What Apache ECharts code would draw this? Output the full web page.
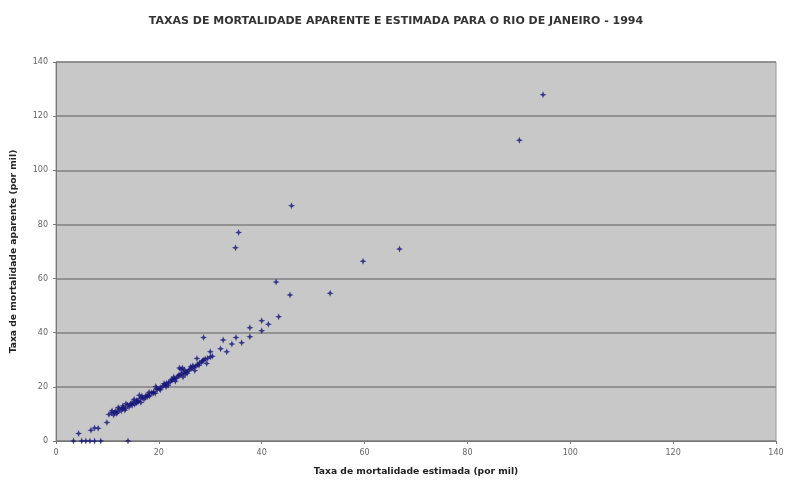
<!DOCTYPE html>
<html>
<head>
<meta charset="utf-8">
<script src="https://cdn.jsdelivr.net/npm/echarts@6/dist/echarts.min.js"></script>
<style>
  html, body { margin: 0; padding: 0; background: #fff; }
  #chart { width: 792px; height: 486px; }
</style>
</head>
<body>
<div id="chart"></div>
<script>
// taxa estimada (eixo x) e taxa aparente (eixo y), por mil
const estimada = [
    3.4, 5.0, 5.8, 6.6, 7.5, 8.7, 14.0,
    4.4, 6.8, 7.5, 8.2, 9.9, 10.3, 10.8, 11.2, 11.6, 12.0, 12.3, 12.7, 13.1, 13.5,
    13.9, 14.2, 14.6, 15.0, 15.3, 15.7, 16.0, 16.4, 16.8, 17.1, 17.5, 17.9, 18.2,
    18.6, 19.0, 19.3, 19.7, 20.1, 20.4, 20.8, 21.2, 21.5, 21.9, 22.3, 22.6, 23.0,
    23.4, 23.7, 24.1, 24.4, 24.8, 24.3, 24.6, 25.0, 25.3, 25.7, 26.0, 26.4, 26.8,
    27.2, 27.5, 27.9, 28.3, 28.7, 29.0, 29.5, 30.0, 30.4, 16.5, 13.4, 15.6, 24.0,
    10.9, 11.4, 12.1, 12.9, 13.6, 14.4, 15.2, 15.9, 16.7, 17.4, 18.1, 18.9, 19.6,
    20.3, 21.0, 21.8, 22.5, 23.2, 23.9, 24.7, 25.5, 26.2, 27.0, 27.8, 28.5, 29.3,
    11.8, 13.0, 14.8, 16.2, 17.8, 19.4, 21.4, 22.9, 25.1, 26.6,
    27.4, 28.7, 30.0, 32.0, 32.5, 33.2, 34.2, 35.0, 36.1, 37.7, 37.7, 40.0, 41.3,
    40.0, 43.3, 45.5, 53.3, 42.8, 59.7, 66.8, 34.9, 35.5, 45.8, 90.1, 94.7
];
const aparente = [
    0, 0, 0, 0, 0, 0, 0,
    2.8, 4.0, 4.8, 4.7, 6.8, 9.8, 10.4, 9.6, 11.0, 10.6, 11.8, 11.2, 12.4, 12.0,
    13.3, 12.6, 13.9, 14.4, 13.6, 15.0, 14.6, 15.8, 16.0, 15.4, 16.8, 17.0, 16.6,
    17.8, 18.2, 17.6, 19.0, 19.3, 19.8, 20.3, 20.8, 21.3, 21.6, 22.0, 22.5, 23.0,
    23.2, 23.9, 24.2, 24.8, 25.3, 26.5, 27.0, 26.2, 25.5, 25.9, 26.4, 26.8, 27.2,
    27.6, 28.3, 28.8, 29.2, 29.8, 30.3, 30.6, 31.0, 31.3, 14.2, 11.4, 14.0, 27.0,
    11.2, 10.5, 12.4, 11.9, 13.8, 13.4, 15.4, 14.8, 16.6, 16.1, 18.0, 17.6, 19.4,
    18.9, 21.2, 20.6, 22.8, 22.1, 24.4, 23.6, 25.0, 27.4, 26.0, 28.0, 29.6, 28.6,
    10.2, 12.9, 13.2, 16.9, 16.4, 20.1, 20.0, 23.6, 24.6, 27.8,
    30.5, 38.2, 33.0, 34.1, 37.3, 33.0, 35.8, 38.2, 36.3, 38.5, 41.8, 40.7, 43.1,
    44.4, 45.9, 53.9, 54.6, 58.7, 66.4, 70.9, 71.4, 77.0, 86.9, 111.1, 127.9
];

const titulo = 'TAXAS DE MORTALIDADE APARENTE E ESTIMADA PARA O RIO DE JANEIRO - 1994';
const nomeX = 'Taxa de mortalidade estimada (por mil)';
const nomeY = 'Taxa de mortalidade aparente (por mil)';

const pontos = estimada.map((x, i) => [x, aparente[i]]);

const chart = echarts.init(document.getElementById('chart'));
const labelStyle = { color: '#666', fontSize: 8, fontFamily: 'DejaVu Sans' };
const nameStyle = { fontSize: 9.2, fontWeight: 'bold', color: '#222', fontFamily: 'DejaVu Sans' };

chart.setOption({
    backgroundColor: '#fff',
    animation: false,
    title: {
        text: titulo,
        left: 'center',
        top: 11,
        textStyle: { fontSize: 11, fontWeight: 'bold', color: '#333', fontFamily: 'DejaVu Sans' }
    },
    grid: {
        left: 56, right: 16, top: 62, bottom: 45,
        show: true,
        backgroundColor: '#c8c8c8',
        borderColor: '#9a9a9a',
        borderWidth: 1
    },
    xAxis: {
        type: 'value',
        min: 0, max: 140, interval: 20,
        name: nomeX,
        nameLocation: 'middle',
        nameGap: 26,
        nameTextStyle: nameStyle,
        axisLine: { lineStyle: { color: '#777' } },
        axisTick: { show: true, length: 3, lineStyle: { color: '#777' } },
        axisLabel: Object.assign({ margin: 8 }, labelStyle),
        splitLine: { show: false }
    },
    yAxis: {
        type: 'value',
        min: 0, max: 140, interval: 20,
        name: nomeY,
        nameLocation: 'middle',
        nameGap: 38,
        nameTextStyle: nameStyle,
        axisLine: { show: true, lineStyle: { color: '#777' } },
        axisTick: { show: true, length: 3, lineStyle: { color: '#777' } },
        axisLabel: Object.assign({ margin: 8 }, labelStyle),
        splitLine: { show: true, lineStyle: { color: '#808080', width: 1.5 } }
    },
    series: [{
        type: 'scatter',
        data: pontos,
        symbol: 'path://M0,-1 L0.28,-0.28 L1,0 L0.28,0.28 L0,1 L-0.28,0.28 L-1,0 L-0.28,-0.28 Z',
        symbolSize: 7,
        itemStyle: { color: '#14147a' }
    }]
});
</script>
</body>
</html>
